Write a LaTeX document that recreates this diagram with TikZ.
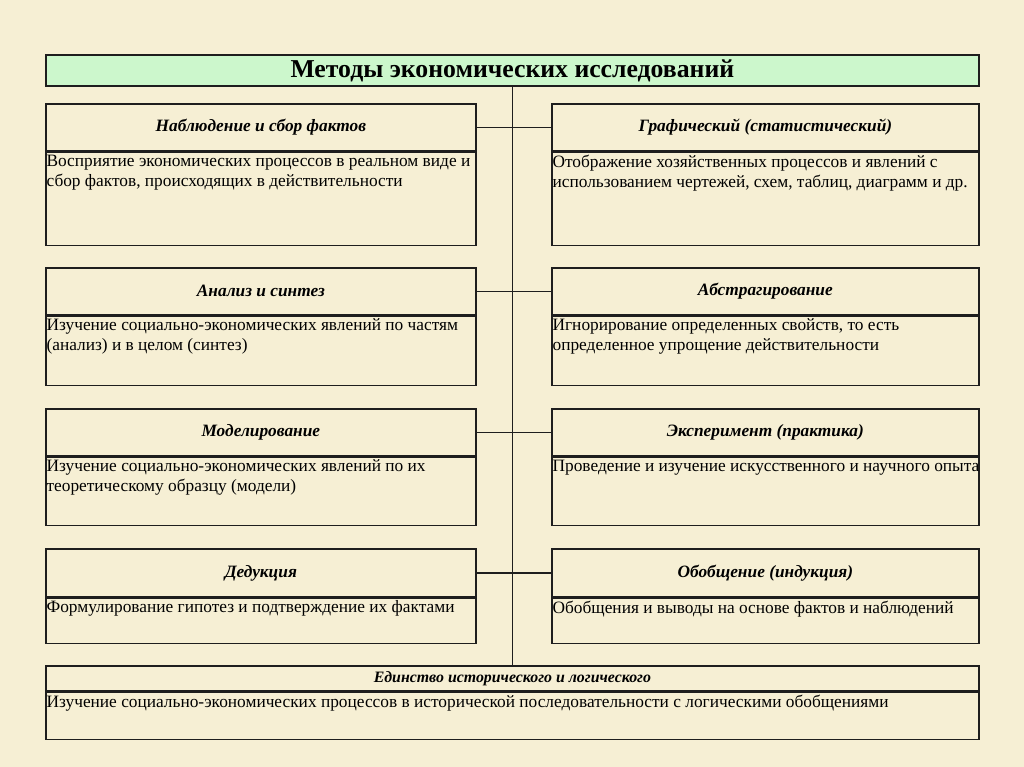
\documentclass[tikz,border=0pt]{standalone}
\usepackage{fontspec}
\setmainfont{Liberation Serif}
\usepackage{xcolor}
\definecolor{bg}{RGB}{246,239,212}
\definecolor{ttlgreen}{RGB}{204,247,204}
\definecolor{rule}{RGB}{30,30,30}

\begin{document}
\begin{tikzpicture}[x=0.75pt,y=-0.75pt,
    ttl/.style={draw=rule,fill=ttlgreen,line width=1.3pt,anchor=north west,minimum width=699.75pt,minimum height=22.5pt,font=\fontsize{19.3}{22}\selectfont\bfseries},
    hd/.style={draw=rule,line width=1.3pt,anchor=north west,minimum height=35.25pt,font=\fontsize{13}{15}\selectfont\bfseries\itshape},
    bx/.style={draw=rule,line width=1.3pt,anchor=north west},
    txt/.style={anchor=north west,align=left,inner xsep=1pt,inner ysep=2pt,font=\fontsize{13}{15}\selectfont},
    ln/.style={draw=rule,line width=1.3pt}]
    \fill[bg] (0,0) rectangle (1024,767);

    \node[ttl] (ttl) at (45,54) {Методы экономических исследований};

    % left column
    \node[hd,minimum width=322.5pt] (h1l) at (45,103) {Наблюдение и сбор фактов};
    \node[bx,minimum width=322.5pt,minimum height=69.75pt] (b1l) at (h1l.south west) {};
    \node[txt] (t1l) at (b1l.north west) {Восприятие экономических процессов в реальном виде и\\сбор фактов, происходящих в действительности};

    \node[hd,minimum width=322.5pt] (h2l) at (45,267) {Анализ и синтез};
    \node[bx,minimum width=322.5pt,minimum height=51.75pt] (b2l) at (h2l.south west) {};
    \node[txt] (t2l) at (b2l.north west) {Изучение социально-экономических явлений по частям\\(анализ) и в целом (синтез)};

    \node[hd,minimum width=322.5pt] (h3l) at (45,408) {Моделирование};
    \node[bx,minimum width=322.5pt,minimum height=51pt] (b3l) at (h3l.south west) {};
    \node[txt] (t3l) at (b3l.north west) {Изучение социально-экономических явлений по их\\теоретическому образцу (модели)};

    \node[hd,minimum width=322.5pt,minimum height=36pt] (h4l) at (45,548) {Дедукция};
    \node[bx,minimum width=322.5pt,minimum height=33.75pt] (b4l) at (h4l.south west) {};
    \node[txt] (t4l) at (b4l.north west) {Формулирование гипотез и подтверждение их фактами};

    % right column
    \node[hd,minimum width=320.25pt] (h1r) at (551,103) {Графический (статистический)};
    \node[bx,minimum width=320.25pt,minimum height=69.75pt] (b1r) at (h1r.south west) {};
    \node[txt] (t1r) at (b1r.north west) {Отображение хозяйственных процессов и явлений с\\использованием чертежей, схем, таблиц, диаграмм и др.};

    \node[hd,minimum width=320.25pt] (h2r) at (551,267) {Абстрагирование};
    \node[bx,minimum width=320.25pt,minimum height=51.75pt] (b2r) at (h2r.south west) {};
    \node[txt] (t2r) at (b2r.north west) {Игнорирование определенных свойств, то есть\\определенное упрощение действительности};

    \node[hd,minimum width=320.25pt] (h3r) at (551,408) {Эксперимент (практика)};
    \node[bx,minimum width=320.25pt,minimum height=51pt] (b3r) at (h3r.south west) {};
    \node[txt] (t3r) at (b3r.north west) {Проведение и изучение искусственного и научного опыта};

    \node[hd,minimum width=320.25pt,minimum height=36pt] (h4r) at (551,548) {Обобщение (индукция)};
    \node[bx,minimum width=320.25pt,minimum height=33.75pt] (b4r) at (h4r.south west) {};
    \node[txt] (t4r) at (b4r.north west) {Обобщения и выводы на основе фактов и наблюдений};

    % bottom
    \node[hd,minimum width=699.75pt,minimum height=18.75pt,font=\fontsize{11.9}{13}\selectfont\bfseries\itshape] (h5) at (45,665) {Единство исторического и логического};
    \node[bx,minimum width=699.75pt,minimum height=35.25pt] (b5) at (h5.south west) {};
    \node[txt] (t5) at (b5.north west) {Изучение социально-экономических процессов в исторической последовательности с логическими обобщениями};

    \path[ln]
    (ttl.south) edge (h5.north)
    (h1l.east) edge (h1r.west)
    (h2l.east) edge (h2r.west)
    (h3l.east) edge (h3r.west)
    (h4l.east) edge (h4r.west);
\end{tikzpicture}
\end{document}
